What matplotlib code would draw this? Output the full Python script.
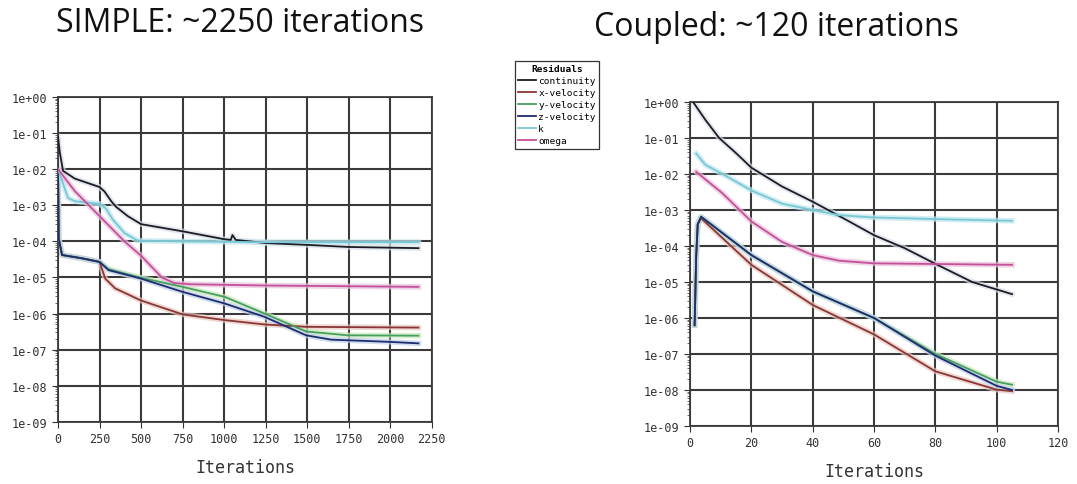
import numpy as np
import matplotlib
matplotlib.use("Agg")
import matplotlib.pyplot as plt
from matplotlib.ticker import LogLocator, NullFormatter

# residual labels
names = ["continuity", "x-velocity", "y-velocity", "z-velocity", "k", "omega"]
colors = ["#1c1c24", "#8a3636", "#45a060", "#1e2c70", "#78c8d4", "#c4509a"]

# SIMPLE run
s_cont_it = [0, 10, 30, 100, 250, 280, 320, 350, 420, 500, 750, 1000, 1040, 1050, 1070, 1250, 1500, 1750, 2170]
s_cont = [8e-2, 3e-2, 9e-3, 5.5e-3, 3.2e-3, 2.4e-3, 1.3e-3, 9e-4, 5e-4, 3e-4, 1.9e-4, 1.15e-4, 1.1e-4, 1.5e-4, 1.1e-4, 9e-5, 8e-5, 7e-5, 6.5e-5]
s_xvel_it = [0, 4, 24, 144, 250, 284, 344, 500, 750, 1004, 1244, 1494, 2170]
s_xvel = [8.5e-3, 1.2e-4, 4.2e-5, 3.4e-5, 2.7e-5, 9.3e-6, 5e-6, 2.3e-6, 9.5e-7, 6.6e-7, 5e-7, 4.3e-7, 4.1e-7]
s_yvel_it = [0, 4, 24, 144, 250, 304, 500, 750, 1004, 1244, 1494, 1744, 2170]
s_yvel = [8.5e-3, 1.2e-4, 4.2e-5, 3.4e-5, 2.7e-5, 1.7e-5, 9.8e-6, 5.5e-6, 2.9e-6, 1e-6, 3.2e-7, 2.5e-7, 2.45e-7]
s_zvel_it = [0, 4, 24, 144, 250, 304, 500, 750, 1004, 1244, 1494, 1644, 1994, 2170]
s_zvel = [8.5e-3, 1.2e-4, 4.2e-5, 3.4e-5, 2.7e-5, 1.6e-5, 9.3e-6, 4e-6, 1.9e-6, 8.1e-7, 2.5e-7, 1.9e-7, 1.65e-7, 1.5e-7]
s_k_it = [0, 30, 60, 100, 250, 290, 330, 400, 480, 750, 1250, 2170]
s_k = [1e-2, 4e-3, 1.6e-3, 1.3e-3, 1.1e-3, 8e-4, 4e-4, 1.7e-4, 1.05e-4, 1e-4, 9.5e-5, 9.5e-5]
s_omega_it = [0, 50, 100, 250, 400, 500, 625, 700, 800, 1250, 2170]
s_omega = [1e-2, 5e-3, 2.5e-3, 5e-4, 1e-4, 4e-5, 1e-5, 7e-6, 6.5e-6, 6e-6, 5.5e-6]

# Coupled run
c_cont_it = [1, 5, 9.5, 15, 20, 30, 40, 50, 60, 70, 80, 92, 105]
c_cont = [1.0, 0.32, 0.1, 3.8e-2, 1.5e-2, 4.5e-3, 1.7e-3, 5.9e-4, 2e-4, 8.7e-5, 3.2e-5, 1e-5, 4.6e-6]
c_vel_it = [1.5, 2, 2.5, 3.6, 20, 40, 60, 80, 100, 105]
c_xvel = [6.3e-7, 5e-5, 4e-4, 5.9e-4, 3e-5, 2.3e-6, 3.5e-7, 3.3e-8, 1.02e-8, 9.3e-9]
c_yvel = [6.3e-7, 5e-5, 4e-4, 6.5e-4, 5.6e-5, 5.5e-6, 1e-6, 1e-7, 1.7e-8, 1.4e-8]
c_zvel = [6.3e-7, 5e-5, 4e-4, 6.5e-4, 5.6e-5, 5.5e-6, 1e-6, 9e-8, 1.3e-8, 1e-8]
c_k_it = [2, 5, 10.6, 20, 30, 40, 48.6, 60, 80, 105]
c_k = [3.7e-2, 1.8e-2, 1e-2, 3.5e-3, 1.5e-3, 1e-3, 7.2e-4, 6.2e-4, 5.6e-4, 5e-4]
c_omega_it = [2, 10.6, 20, 30, 40, 48.6, 60, 105]
c_omega = [1.15e-2, 2.9e-3, 4.8e-4, 1.3e-4, 5.6e-5, 3.9e-5, 3.3e-5, 3e-5]

y_ticks = [1e0, 1e-1, 1e-2, 1e-3, 1e-4, 1e-5, 1e-6, 1e-7, 1e-8, 1e-9]
y_labels = ["1e+00", "1e-01", "1e-02", "1e-03", "1e-04", "1e-05", "1e-06", "1e-07", "1e-08", "1e-09"]
s_xticks = [0, 250, 500, 750, 1000, 1250, 1500, 1750, 2000, 2250]
c_xticks = [0, 20, 40, 60, 80, 100, 120]

fig = plt.figure(figsize=(10.77, 4.85), dpi=100)
ax1 = fig.add_axes([0.0539, 0.128, 0.347, 0.670])
ax2 = fig.add_axes([0.6407, 0.1196, 0.3417, 0.668])

simple = [(s_cont_it, s_cont), (s_xvel_it, s_xvel), (s_yvel_it, s_yvel),
          (s_zvel_it, s_zvel), (s_k_it, s_k), (s_omega_it, s_omega)]
coupled = [(c_cont_it, c_cont), (c_vel_it, c_xvel), (c_vel_it, c_yvel),
           (c_vel_it, c_zvel), (c_k_it, c_k), (c_omega_it, c_omega)]
halo = ["#d8dde8", "#e8c8c0", "#c8e8b8", "#c0d0e8", "#bfe6ee", "#e8c0dc"]

handles = []
for ax, series, xmax, xt in [(ax1, simple, 2250, s_xticks), (ax2, coupled, 120, c_xticks)]:
    for i, (it, r) in enumerate(series):
        # faint halo to mimic the noisy scanned traces
        ax.plot(it, r, color=halo[i], lw=4, alpha=0.7, zorder=2)
        h, = ax.plot(it, r, color=colors[i], lw=1.3, zorder=3, label=names[i])
        if ax is ax1:
            handles.append(h)
    ax.set_yscale("log")
    ax.set_ylim(1e-9, 1e0)
    ax.set_xlim(0, xmax)
    ax.set_yticks(y_ticks)
    ax.set_yticklabels(y_labels)
    ax.set_xticks(xt)
    ax.yaxis.set_minor_locator(LogLocator(base=10, subs=np.arange(2, 10)))
    ax.yaxis.set_minor_formatter(NullFormatter())
    ax.grid(True, which="major", color="#3a3a3a", lw=1.5, zorder=1)
    for sp in ax.spines.values():
        sp.set_color("#3a3a3a")
        sp.set_linewidth(1.3)
    ax.tick_params(axis="both", which="major", labelsize=8.5, colors="#333333",
                   length=4, direction="out", labelfontfamily="DejaVu Sans Mono")
    ax.tick_params(axis="y", which="minor", length=2, colors="#555555")
    ax.set_xlabel("Iterations", fontsize=12, family="DejaVu Sans Mono", color="#333333",
                  labelpad=9)

fig.text(0.2228, 0.952, "SIMPLE: ~2250 iterations", fontsize=23, ha="center", va="center",
         family="Open Sans", color="#111111")
fig.text(0.7205, 0.944, "Coupled: ~120 iterations", fontsize=23, ha="center", va="center",
         family="Open Sans", color="#111111")

leg = fig.legend(handles=handles, loc="upper left", bbox_to_anchor=(0.4735, 0.882),
                 title="Residuals", handlelength=1.9, handletextpad=0.25,
                 labelspacing=0.32, borderpad=0.35, fancybox=False,
                 edgecolor="#333333", framealpha=1,
                 prop={"family": "DejaVu Sans Mono", "size": 6.8})
leg.get_title().set_fontsize(6.8)
leg.get_title().set_family("DejaVu Sans Mono")
leg.get_title().set_fontweight("bold")
leg.get_frame().set_linewidth(0.9)

fig.savefig("out.png", dpi=100)
